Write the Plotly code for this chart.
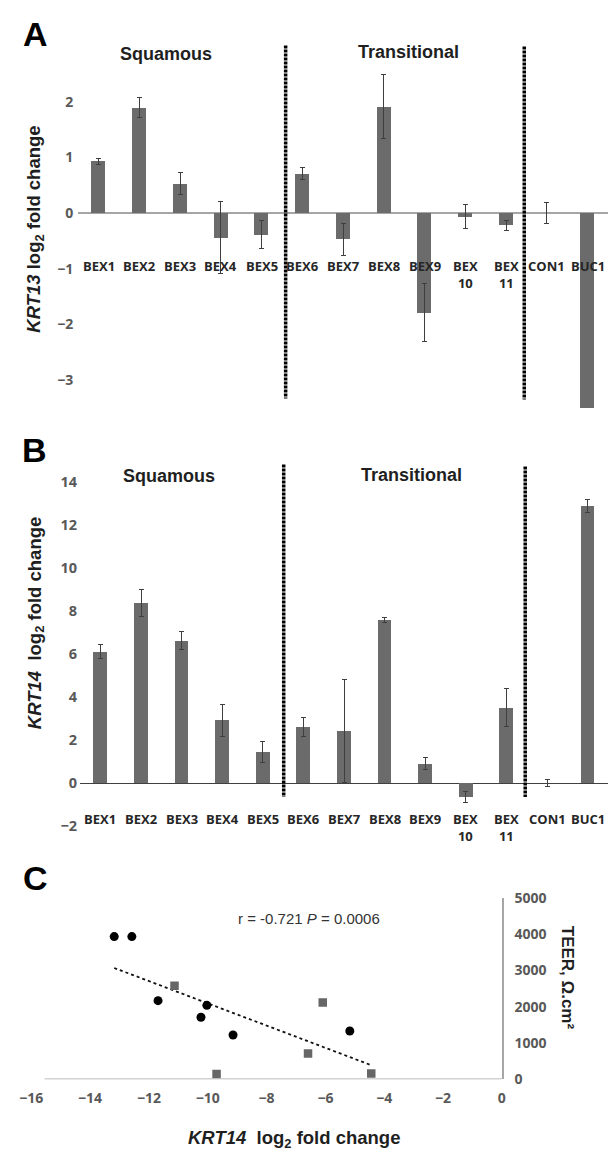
import numpy as np
import plotly.graph_objects as go

W, H = 612, 1159

# ---------------- data ----------------
categories = ["BEX1", "BEX2", "BEX3", "BEX4", "BEX5", "BEX6", "BEX7", "BEX8",
              "BEX9", "BEX10", "BEX11", "CON1", "BUC1"]
cat_labels = ["BEX1", "BEX2", "BEX3", "BEX4", "BEX5", "BEX6", "BEX7", "BEX8",
              "BEX9", "BEX<br>10", "BEX<br>11", "CON1", "BUC1"]

krt13 = [0.93, 1.89, 0.53, -0.44, -0.39, 0.71, -0.47, 1.91, -1.79, -0.06, -0.22, 0.0, -3.5]
krt13_err = [0.05, 0.18, 0.20, 0.65, 0.25, 0.11, 0.29, 0.58, 0.52, 0.22, 0.09, 0.19, 0.0]

krt14 = [6.13, 8.37, 6.64, 2.93, 1.46, 2.60, 2.42, 7.60, 0.92, -0.64, 3.52, 0.0, 12.9]
krt14_err = [0.33, 0.63, 0.40, 0.75, 0.50, 0.45, 2.38, 0.13, 0.27, 0.25, 0.90, 0.17, 0.30]

circ_x = [-13.18, -12.58, -11.69, -10.03, -10.23, -9.14, -5.17]
circ_y = [3940, 3940, 2170, 2040, 1710, 1220, 1330]
sq_x = [-11.13, -9.70, -6.59, -6.09, -4.44]
sq_y = [2580, 140, 710, 2120, 160]

a_ticks = [-3, -2, -1, 0, 1, 2]
b_ticks = [-2, 0, 2, 4, 6, 8, 10, 12, 14]
c_xticks = [-16, -14, -12, -10, -8, -6, -4, -2, 0]
c_yticks = [0, 1000, 2000, 3000, 4000, 5000]

# ---------------- helpers ----------------
def px(x):
    return x / W

def py(y):
    return 1 - y / H

BAR = "#6b6b6b"
ERR = "#3f3f3f"
TICK = "#595959"
DARK = "#1f1f1f"
ARIAL = "Liberation Sans, Arial, sans-serif"
CAL = "Open Sans, sans-serif"

fig = go.Figure()

# panel A bars
fig.add_trace(go.Bar(
    x=categories, y=krt13, width=0.34, marker=dict(color=BAR, line=dict(width=0)),
    error_y=dict(type="data", array=krt13_err, color=ERR, thickness=1, width=2.5),
    xaxis="x", yaxis="y", showlegend=False))

# panel B bars
fig.add_trace(go.Bar(
    x=categories, y=krt14, width=0.34, marker=dict(color=BAR, line=dict(width=0)),
    error_y=dict(type="data", array=krt14_err, color=ERR, thickness=1, width=2.5),
    xaxis="x2", yaxis="y2", showlegend=False))

# panel C scatter + linear fit
all_x = np.array(circ_x + sq_x)
all_y = np.array(circ_y + sq_y)
slope, icpt = np.polyfit(all_x, all_y, 1)
tx = np.array([all_x.min(), all_x.max()])
fig.add_trace(go.Scatter(
    x=tx, y=slope * tx + icpt, mode="lines",
    line=dict(color="#111111", width=1.8, dash="dot"),
    xaxis="x3", yaxis="y3", showlegend=False, hoverinfo="skip"))
fig.add_trace(go.Scatter(
    x=circ_x, y=circ_y, mode="markers",
    marker=dict(symbol="circle", size=9, color="#000000"),
    xaxis="x3", yaxis="y3", showlegend=False))
fig.add_trace(go.Scatter(
    x=sq_x, y=sq_y, mode="markers",
    marker=dict(symbol="square", size=8.5, color="#666666"),
    xaxis="x3", yaxis="y3", showlegend=False))

tickfont = dict(family=CAL, size=14, color=TICK, weight="bold")

fig.update_layout(
    width=W, height=H, margin=dict(l=0, r=0, t=0, b=0),
    paper_bgcolor="white", plot_bgcolor="rgba(0,0,0,0)",
    bargap=0,
    xaxis=dict(domain=[px(68), 1.0], range=[-0.5, 12.5], showticklabels=False,
               showgrid=False, zeroline=False, showline=False, ticks="",
               anchor="y"),
    yaxis=dict(domain=[py(404.75), py(36.5)], range=[-3.5, 3.0], tickvals=a_ticks,
               showgrid=False, zeroline=True, zerolinecolor="#a6a6a6", zerolinewidth=1.5,
               showline=False, ticks="", tickfont=tickfont, ticklabelstandoff=4,
               anchor="x"),
    xaxis2=dict(domain=[px(70), 1.0], range=[-0.5, 12.5], showticklabels=False,
                showgrid=False, zeroline=False, showline=False, ticks="",
                anchor="y2"),
    yaxis2=dict(domain=[py(829.7), py(458.3)], range=[-2, 15], tickvals=b_ticks,
                showgrid=False, zeroline=True, zerolinecolor="#404040", zerolinewidth=1.2,
                showline=False, ticks="", tickfont=dict(family=CAL, size=14.5, color=TICK, weight="bold"),
                ticklabelstandoff=2, anchor="x2"),
    xaxis3=dict(domain=[px(19.8), px(503)], range=[-16, 0], tickvals=c_xticks,
                showgrid=False, zeroline=False, showline=False, ticks="",
                tickfont=tickfont, ticklabelstandoff=9, anchor="y3"),
    yaxis3=dict(domain=[py(1087), py(903)], range=[0, 5000], tickvals=c_yticks,
                side="right", showgrid=False, zeroline=False, showline=True,
                linecolor="#a6a6a6", linewidth=1.5, ticks="",
                tickfont=tickfont, ticklabelstandoff=8, anchor="x3"),
)

shapes = []
# dotted group dividers
for (x, y0, y1) in [(281, 36, 395), (526, 37, 396), (279, 462, 800), (527, 464, 800)]:
    shapes.append(dict(type="line", xref="paper", yref="paper",
                       x0=px(x), x1=px(x), y0=py(y0), y1=py(y1),
                       line=dict(color="#000000", width=3.5, dash="3px,1px")))
# panel C x-axis line
shapes.append(dict(type="line", xref="x3", yref="y3", x0=-15.55, x1=0, y0=0, y1=0,
                   line=dict(color="#a6a6a6", width=1.5)))
fig.update_layout(shapes=shapes)

ann = []
# category labels
for i, lab in enumerate(cat_labels):
    ann.append(dict(x=categories[i], xref="x", y=py(250), yref="paper", yanchor="top",
                    text="<b>" + lab + "</b>", showarrow=False, borderpad=0,
                    font=dict(family=CAL, size=13, color="#262626")))
    ann.append(dict(x=categories[i], xref="x2", y=py(812), yref="paper", yanchor="top",
                    text="<b>" + lab + "</b>", showarrow=False, borderpad=0,
                    font=dict(family=CAL, size=13, color="#262626")))

def txt(x, y, text, size, angle=0, family=ARIAL, color=DARK, xanchor="center"):
    ann.append(dict(x=px(x), y=py(y), xref="paper", yref="paper", text=text,
                    showarrow=False, textangle=angle, xanchor=xanchor, yanchor="middle",
                    font=dict(family=family, size=size, color=color)))

# panel letters
txt(24.5, 24, "<b>A</b>", 34, color="#000000")
txt(23.5, 447, "<b>B</b>", 34, color="#000000")
txt(24.5, 882, "<b>C</b>", 34, color="#000000")
# section titles
txt(158, 45, "<b>Squamous</b>", 18)
txt(407, 43, "<b>Transitional</b>", 18)
txt(161, 474, "<b>Squamous</b>", 18)
txt(410, 473, "<b>Transitional</b>", 18)
# axis titles
txt(24, 223, "<b><i>KRT13</i> log<sub>2</sub> fold change</b>", 18.5, angle=-90)
txt(24, 623, "<b><i>KRT14</i>&nbsp; log<sub>2</sub> fold change</b>", 18.5, angle=-90)
txt(290, 1148, "<b><i>KRT14</i>&nbsp; log<sub>2</sub> fold change</b>", 18.5)
txt(570, 984, "<b>TEER, Ω.cm²</b>", 17, angle=90)
# correlation statistic
txt(305, 924, "r = -0.721 <i>P</i> = 0.0006", 15, color="#333333")

fig.update_layout(annotations=ann)

fig.write_html("out.html", config={"displayModeBar": False},
               post_script="document.body.style.margin='0';document.body.style.padding='0';")
